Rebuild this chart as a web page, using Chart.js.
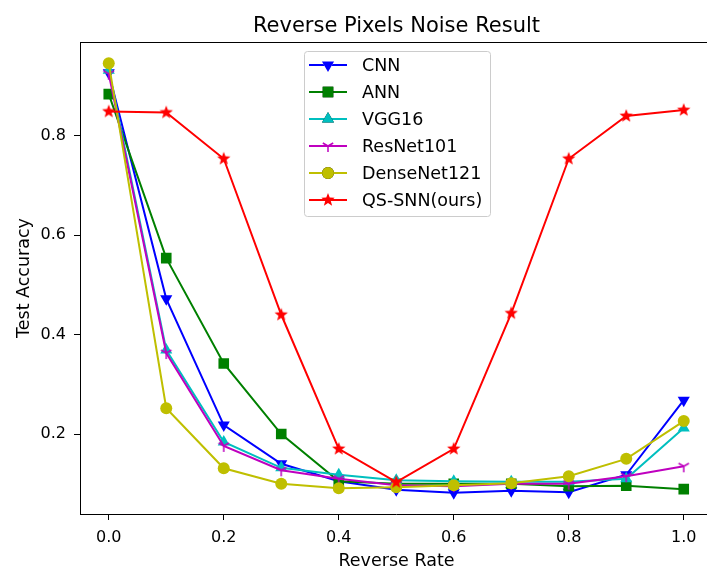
<!DOCTYPE html>
<html lang="en">
<head>
<meta charset="UTF-8">
<title>Reverse Pixels Noise Result</title>
<script src="https://cdn.jsdelivr.net/npm/chart.js@4.4.0/dist/chart.umd.min.js"></script>
<style>
  html, body { margin: 0; padding: 0; background: #fff; overflow: hidden; }
  #wrap { position: relative; width: 707px; height: 568px; overflow: hidden; }
  #chart { position: absolute; left: 0; top: 0; }
</style>
</head>
<body>
<div id="wrap"><canvas id="chart" width="720" height="568"></canvas></div>
<script>
  // ---- data ----
  const rates = [0.0, 0.1, 0.2, 0.3, 0.4, 0.5, 0.6, 0.7, 0.8, 0.9, 1.0];
  const cnnAcc      = [0.927, 0.472, 0.218, 0.140, 0.105, 0.088, 0.082, 0.086, 0.083, 0.118, 0.268];
  const annAcc      = [0.884, 0.554, 0.342, 0.200, 0.105, 0.100, 0.100, 0.100, 0.095, 0.096, 0.089];
  const vggAcc      = [0.932, 0.369, 0.184, 0.132, 0.118, 0.107, 0.105, 0.104, 0.104, 0.110, 0.212];
  const resnetAcc   = [0.925, 0.363, 0.176, 0.127, 0.110, 0.097, 0.095, 0.100, 0.100, 0.115, 0.135];
  const densenetAcc = [0.946, 0.252, 0.131, 0.100, 0.091, 0.093, 0.097, 0.101, 0.115, 0.150, 0.226];
  const qssnnAcc    = [0.849, 0.847, 0.754, 0.440, 0.170, 0.103, 0.170, 0.443, 0.754, 0.840, 0.852];

  const seriesNames = ['CNN', 'ANN', 'VGG16', 'ResNet101', 'DenseNet121', 'QS-SNN(ours)'];
  const xTicks = [0.0, 0.2, 0.4, 0.6, 0.8, 1.0];
  const yTicks = [0.2, 0.4, 0.6, 0.8];

  const FONT = "'DejaVu Sans', sans-serif";

  // wanted plot box (right edge lies just past the picture)
  const AREA = { left: 80, top: 42, right: 713 };

  // filled five pointed star (matplotlib '*')
  function makeStar(color, r) {
    const c = document.createElement('canvas');
    const s = Math.ceil(r * 2 + 2);
    c.width = s; c.height = s;
    const g = c.getContext('2d');
    g.fillStyle = color;
    g.beginPath();
    for (let i = 0; i < 10; i++) {
      const rad = i % 2 === 0 ? r : r * 0.42;
      const a = -Math.PI / 2 + i * Math.PI / 5;
      const px = s / 2 + rad * Math.cos(a), py = s / 2 + rad * Math.sin(a);
      if (i === 0) g.moveTo(px, py); else g.lineTo(px, py);
    }
    g.closePath();
    g.fill();
    return c;
  }

  // tri_down (matplotlib '1')
  function makeTriDown(color, r) {
    const c = document.createElement('canvas');
    const s = Math.ceil(r * 2 + 4);
    c.width = s; c.height = s;
    const g = c.getContext('2d');
    g.strokeStyle = color;
    g.lineWidth = 1.5;
    const cx = s / 2, cy = s / 2;
    g.beginPath();
    g.moveTo(cx, cy); g.lineTo(cx, cy + r);
    g.moveTo(cx, cy); g.lineTo(cx - r * 0.866, cy - r * 0.5);
    g.moveTo(cx, cy); g.lineTo(cx + r * 0.866, cy - r * 0.5);
    g.stroke();
    return c;
  }

  const styles = [
    { color: '#0000ff', pointStyle: 'triangle', rotation: 180, radius: 7 },
    { color: '#008000', pointStyle: 'rect', rotation: 0, radius: 7.5 },
    { color: '#00bfbf', pointStyle: 'triangle', rotation: 0, radius: 7 },
    { color: '#bf00bf', pointStyle: makeTriDown('#bf00bf', 6), rotation: 0, radius: 6 },
    { color: '#bfbf00', pointStyle: 'circle', rotation: 0, radius: 6 },
    { color: '#ff0000', pointStyle: makeStar('#ff0000', 7), rotation: 0, radius: 7 }
  ];

  const allSeries = [cnnAcc, annAcc, vggAcc, resnetAcc, densenetAcc, qssnnAcc];

  const datasets = allSeries.map((vals, i) => ({
    label: seriesNames[i],
    data: rates.map((r, k) => ({ x: r, y: vals[k] })),
    borderColor: styles[i].color,
    backgroundColor: styles[i].color,
    borderWidth: 2,
    pointStyle: styles[i].pointStyle,
    pointRotation: styles[i].rotation,
    pointRadius: styles[i].radius,
    pointBorderWidth: 0,
    pointBackgroundColor: styles[i].color,
    pointBorderColor: styles[i].color,
    tension: 0,
    order: allSeries.length - i
  }));

  // title, axis titles, frame and legend box
  const decor = {
    id: 'decor',
    afterDraw(chart) {
      const ctx = chart.ctx;
      const a = chart.chartArea;
      ctx.save();
      ctx.strokeStyle = '#000';
      ctx.lineWidth = 1;
      ctx.beginPath();
      ctx.moveTo(a.left, a.top + 0.5);
      ctx.lineTo(a.right - 0.5, a.top + 0.5);
      ctx.lineTo(a.right - 0.5, a.bottom);
      ctx.stroke();

      const midX = (AREA.left + AREA.right) / 2;
      ctx.fillStyle = '#000';
      ctx.textAlign = 'center';
      ctx.textBaseline = 'alphabetic';
      ctx.font = '21px ' + FONT;
      ctx.fillText('Reverse Pixels Noise Result', midX, 32);
      ctx.font = '17.5px ' + FONT;
      ctx.fillText('Reverse Rate', midX, 566);
      ctx.save();
      ctx.translate(28.5, (a.top + a.bottom) / 2);
      ctx.rotate(-Math.PI / 2);
      ctx.fillText('Test Accuracy', 0, 0);
      ctx.restore();

      // legend
      const bx = 304.5, by = 51.5, bw = 186, bh = 165;
      ctx.fillStyle = 'rgba(255,255,255,0.85)';
      ctx.strokeStyle = '#cccccc';
      ctx.lineWidth = 1;
      ctx.beginPath();
      ctx.roundRect(bx, by, bw, bh, 3);
      ctx.fill();
      ctx.stroke();
      ctx.font = '17.5px ' + FONT;
      ctx.textAlign = 'left';
      ctx.textBaseline = 'middle';
      seriesNames.forEach((name, i) => {
        const y = 65 + i * 27;
        ctx.strokeStyle = styles[i].color;
        ctx.lineWidth = 2;
        ctx.beginPath();
        ctx.moveTo(309, y);
        ctx.lineTo(347, y);
        ctx.stroke();
        Chart.helpers.drawPoint(ctx, {
          pointStyle: styles[i].pointStyle,
          rotation: styles[i].rotation,
          radius: styles[i].radius,
          borderWidth: 0
        }, 328, y);
        ctx.fillStyle = styles[i].color;
        ctx.fill();
        ctx.fillStyle = '#000';
        ctx.fillText(name, 362, y + 1);
      });
      ctx.restore();
    }
  };

  const pad = { top: 42, right: 7, left: 0, bottom: 0 };

  const chart = new Chart(document.getElementById('chart'), {
    type: 'line',
    data: { datasets },
    options: {
      responsive: false,
      animation: false,
      layout: { padding: { ...pad } },
      plugins: { legend: { display: false }, title: { display: false }, tooltip: { enabled: false } },
      scales: {
        x: {
          type: 'linear',
          min: -0.05,
          max: 1.05,
          afterFit: s => { s.height = 54; },
          afterBuildTicks: s => { s.ticks = xTicks.map(v => ({ value: v })); },
          grid: { display: true, drawOnChartArea: false, tickLength: 6, color: '#000' },
          border: { display: true, color: '#000', width: 1 },
          ticks: { color: '#000', padding: 8, font: { size: 16, family: FONT }, callback: v => v.toFixed(1) }
        },
        y: {
          type: 'linear',
          min: 0.039,
          max: 0.989,
          afterFit: s => { s.width = 80; },
          afterBuildTicks: s => { s.ticks = yTicks.map(v => ({ value: v })); },
          grid: { display: true, drawOnChartArea: false, tickLength: 6, color: '#000' },
          border: { display: true, color: '#000', width: 1 },
          ticks: { color: '#000', padding: 8, font: { size: 16, family: FONT }, callback: v => v.toFixed(1) }
        }
      }
    },
    plugins: [decor]
  });

  // Chart.js adds its own edge padding for tick labels; nudge the layout
  // padding until the plot box sits where the reference has it
  for (let k = 0; k < 3; k++) {
    const a = chart.chartArea;
    pad.right += a.right - AREA.right;
    pad.left += AREA.left - a.left;
    pad.top += AREA.top - a.top;
    chart.options.layout.padding = { ...pad };
    chart.update('none');
  }
</script>
</body>
</html>
